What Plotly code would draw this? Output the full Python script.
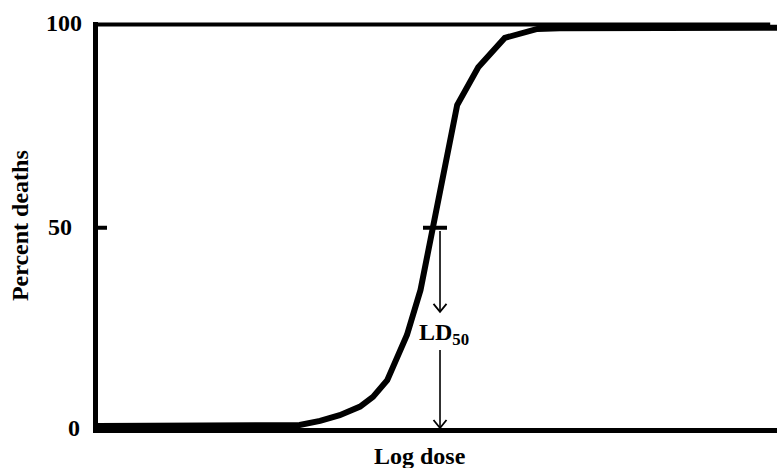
import plotly.graph_objects as go

# Dose-response (sigmoid) curve: percent deaths vs log dose
log_dose = [0, 2.68, 2.97, 3.27, 3.56, 3.86, 4.05, 4.26, 4.40, 4.55, 4.75,
            4.93, 5.07, 5.29, 5.60, 5.99, 6.47, 6.80, 10]
pct_deaths = [1.2, 1.2, 1.5, 2.5, 3.9, 6.0, 8.4, 12.5, 17.5, 23.6, 34.7,
              49.9, 61.3, 80.2, 89.5, 96.7, 98.9, 99.1, 99.2]

y_tick_vals = [100, 50, 0]
y_tick_text = ["100", "50", "0"]
y_tick_xshift = [-14, -24, -16]
y_tick_yshift = [1, 1, 2.5]

ld50_x = 4.963        # log dose at which the curve crosses 50 %
ld50_arrow_x = 5.037  # x of the two arrows below the marker
# (tail, tip) of each arrow, in percent
arrow_spans = [(49.2, 29.3), (19.9, 0.75)]

Y_RANGE = [0.738, 100.615]

FONT = dict(family="Liberation Serif, Times New Roman, serif", size=24,
            color="black", weight="bold")


def y_to_paper(v):
    return (v - Y_RANGE[0]) / (Y_RANGE[1] - Y_RANGE[0])


fig = go.Figure()
fig.add_trace(go.Scatter(
    x=log_dose, y=pct_deaths, mode="lines",
    line=dict(color="black", width=6),
    hoverinfo="skip", showlegend=False,
))

shapes = [
    # top frame line at 100 %
    dict(type="line", xref="paper", yref="y", x0=0, x1=0.99, y0=100, y1=100,
         line=dict(color="black", width=4)),
    # tick on the y axis at 50 %
    dict(type="line", xref="x", yref="y", xsizemode="pixel", xanchor=0,
         x0=-15, x1=9, y0=50, y1=50, line=dict(color="black", width=4)),
    # LD50 marker on the curve
    dict(type="line", xref="x", yref="y", xsizemode="pixel", xanchor=ld50_x,
         x0=-12, x1=12, y0=50, y1=50, line=dict(color="black", width=4)),
]

# thin arrows with open chevron heads
for tail, tip in arrow_spans:
    shapes.append(dict(type="line", xref="x", yref="y",
                       x0=ld50_arrow_x, x1=ld50_arrow_x, y0=tail, y1=tip,
                       line=dict(color="black", width=1.6)))
    shapes.append(dict(type="path", xref="x", yref="y",
                       xsizemode="pixel", ysizemode="pixel",
                       xanchor=ld50_arrow_x, yanchor=tip,
                       path="M-6.5,8 L0,0 L6.5,8",
                       line=dict(color="black", width=1.8)))

annotations = []
for v, t, xs, ys in zip(y_tick_vals, y_tick_text, y_tick_xshift, y_tick_yshift):
    annotations.append(dict(x=0, y=y_to_paper(v), xref="paper", yref="paper",
                            text=t, showarrow=False, xanchor="right",
                            yanchor="middle", xshift=xs, yshift=ys, font=FONT))

annotations.append(dict(x=5.096, y=23.9, xref="x", yref="y",
                        text="LD<sub>50</sub>", showarrow=False,
                        xanchor="center", yanchor="middle", font=FONT))

# axis titles
annotations.append(dict(x=0.4742, y=0, xref="paper", yref="paper",
                        text="Log dose", showarrow=False, xanchor="center",
                        yanchor="middle", yshift=-28, font=FONT))
annotations.append(dict(x=0, y=y_to_paper(50.4), xref="paper", yref="paper",
                        text="Percent deaths", showarrow=False, textangle=-90,
                        xanchor="center", yanchor="middle", xshift=-78,
                        font=FONT))

fig.update_layout(
    width=777, height=468,
    margin=dict(l=98, r=0, t=22, b=40),
    paper_bgcolor="white", plot_bgcolor="white",
    xaxis=dict(range=[0, 10], showgrid=False, zeroline=False,
               showticklabels=False, ticks="", showline=True,
               linecolor="black", linewidth=5, fixedrange=True),
    yaxis=dict(range=Y_RANGE, showgrid=False, zeroline=False,
               showticklabels=False, ticks="", showline=True,
               linecolor="black", linewidth=5, fixedrange=True),
    shapes=shapes,
    annotations=annotations,
)

fig.write_html("out.html", config={"displayModeBar": False})
